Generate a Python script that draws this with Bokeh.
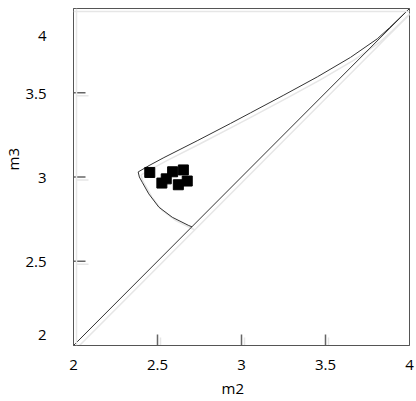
from bokeh.plotting import figure
from bokeh.models import Range1d, FixedTicker, Span, Title
from bokeh.embed import file_html
from bokeh.resources import INLINE

# ---- data ----
tick_values = [2, 2.5, 3, 3.5, 4]
tick_labels = ["2", "2.5", "3", "3.5", "4"]

diag_m2 = [2.0, 4.0]
diag_m3 = [2.0, 4.0]

upper_m2 = [2.385, 2.45, 2.538, 2.736, 2.935, 3.054, 3.252, 3.451, 3.649, 3.808, 3.88, 4.0]
upper_m3 = [3.030, 3.068, 3.115, 3.215, 3.318, 3.381, 3.486, 3.594, 3.710, 3.820, 3.885, 4.0]

arc_m2 = [2.385, 2.392, 2.409, 2.448, 2.508, 2.588, 2.686, 2.706]
arc_m3 = [3.030, 3.000, 2.969, 2.900, 2.821, 2.761, 2.712, 2.704]

pts_m2 = [2.454, 2.590, 2.654, 2.526, 2.552, 2.624, 2.677]
pts_m3 = [3.027, 3.031, 3.042, 2.964, 2.989, 2.954, 2.976]

x_title = "m2"
y_title = "m3"

FONT = "Open Sans"
LINE = "#333333"
FRAME = "#555555"
TICK = "#666666"
SHADOW = "#e6e6e6"

p = figure(width=416, height=401, output_backend="svg", toolbar_location=None,
           x_range=Range1d(2, 4), y_range=Range1d(2, 4),
           min_border_left=73, min_border_right=7, min_border_top=8, min_border_bottom=56)
p.background_fill_color = "white"
p.border_fill_color = "white"
p.outline_line_color = FRAME
p.outline_line_width = 1
p.grid.visible = False

# pixel -> data conversions for styling (frame ~336 x 337 px for 2 units)
px_x = 2.0 / 336.0
px_y = 2.0 / 337.0
dx = 3 * px_x   # shadow offset right
dy = 3 * px_y   # shadow offset down
tick_len_x = 11 * px_y
tick_len_y = 12 * px_x

x0, x1 = tick_values[0], tick_values[-1]
y0, y1 = tick_values[0], tick_values[-1]
inner = tick_values[1:-1]

# --- shadows ---
p.add_layout(Span(location=x0 + dx, dimension="height", line_color=SHADOW, line_width=1.5))
p.add_layout(Span(location=y1 - dy, dimension="width", line_color=SHADOW, line_width=1.5))
for xs, ys in [(diag_m2, diag_m3), (upper_m2, upper_m3), (arc_m2, arc_m3)]:
    p.line([v + dx for v in xs], [v - dy for v in ys], line_color=SHADOW, line_width=1.5)
p.segment(x0=[t + dx for t in inner], y0=[y0 - dy] * len(inner),
          x1=[t + dx for t in inner], y1=[y0 - dy + tick_len_x] * len(inner),
          line_color=SHADOW, line_width=1.5)
p.segment(x0=[x0 + dx] * len(inner), y0=[t - dy for t in inner],
          x1=[x0 + dx + tick_len_y] * len(inner), y1=[t - dy for t in inner],
          line_color=SHADOW, line_width=1.5)

# --- main marks ---
p.line(diag_m2, diag_m3, line_color=LINE, line_width=1)
p.line(upper_m2, upper_m3, line_color=LINE, line_width=1)
p.line(arc_m2, arc_m3, line_color=LINE, line_width=1)

# inner tick marks
p.segment(x0=inner, y0=[y0] * len(inner), x1=inner, y1=[y0 + tick_len_x] * len(inner),
          line_color=TICK, line_width=1.5)
p.segment(x0=[x0] * len(inner), y0=inner, x1=[x0 + tick_len_y] * len(inner), y1=inner,
          line_color=TICK, line_width=1.5)

p.scatter(pts_m2, pts_m3, marker="square", size=10, fill_color="black", line_color="black")

for ax in (p.xaxis[0], p.yaxis[0]):
    ax.ticker = FixedTicker(ticks=tick_values)
    ax.minor_tick_line_color = None
    ax.major_tick_line_color = None
    ax.major_tick_in = 0
    ax.major_tick_out = 0
    ax.axis_line_color = FRAME
    ax.major_label_text_font = FONT
    ax.major_label_text_font_size = "15px"
    ax.major_label_text_color = "black"

p.xaxis[0].major_label_overrides = {v: s for v, s in zip(tick_values, tick_labels)}
ylab = {v: s for v, s in zip(tick_values, tick_labels)}
ylab[tick_values[-1]] = "\n" + tick_labels[-1]
ylab[tick_values[0]] = tick_labels[0] + "\n"
p.yaxis[0].major_label_overrides = ylab

p.xaxis[0].major_label_standoff = 14
p.yaxis[0].major_label_standoff = 27
p.yaxis[0].major_label_text_align = "center"

p.add_layout(Title(text=x_title, align="left", offset=148, standoff=6,
                   text_font=FONT, text_font_size="15px", text_font_style="normal",
                   text_color="black"), "below")
p.add_layout(Title(text=y_title, align="left", offset=175, standoff=0,
                   text_font=FONT, text_font_size="15px", text_font_style="normal",
                   text_color="black"), "left")

open("out.html", "w").write(file_html(p, INLINE))
